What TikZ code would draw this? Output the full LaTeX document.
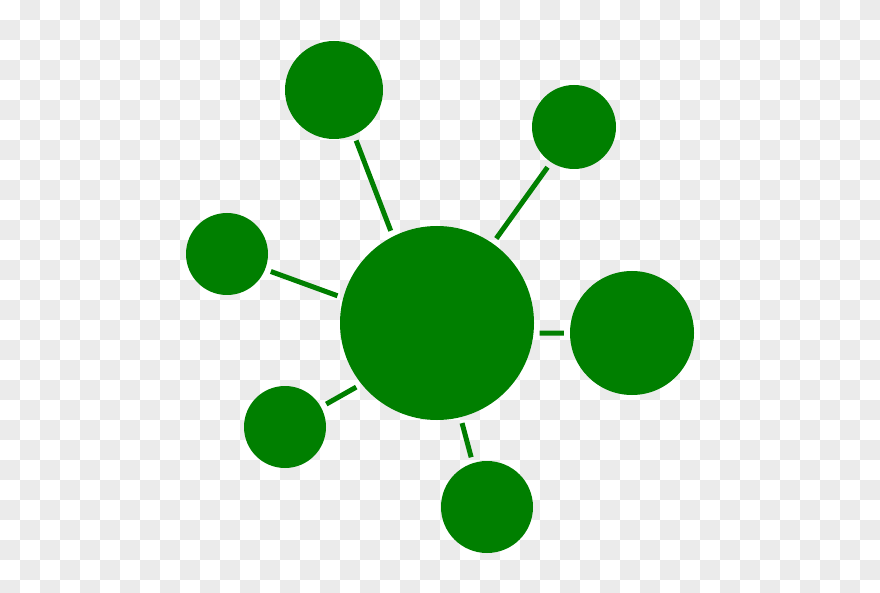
\documentclass[tikz,border=0pt]{standalone}
\definecolor{molgreen}{HTML}{007F00}
\definecolor{checkgray}{HTML}{EBEBEB}
\tikzset{
  ball/.style={circle, fill=molgreen, draw=none, inner sep=0pt, minimum size=#1},
  bond/.style={draw=molgreen, line width=5pt, shorten <=6pt, shorten >=6pt},
}
\begin{document}
\begin{tikzpicture}[x=1pt, y=-1pt]
  \begin{scope}
    \clip (0,0) rectangle (880,593);
    \fill[white] (0,0) rectangle (880,593);
    \foreach \i in {0,2,...,42} \foreach \j in {1,3,...,29}
      \fill[checkgray] (\i*20,\j*20) rectangle ++(20,20);
    \foreach \i in {1,3,...,43} \foreach \j in {0,2,...,28}
      \fill[checkgray] (\i*20,\j*20) rectangle ++(20,20);
  \end{scope}
  \useasboundingbox (0,0) rectangle (880,593);

  \node[ball=194pt] (c)  at (437,323) {};
  \node[ball=98pt]  (tl) at (334,90)  {};
  \node[ball=84pt]  (tr) at (574,127) {};
  \node[ball=82pt]  (l)  at (227,254) {};
  \node[ball=124pt] (r)  at (632,333) {};
  \node[ball=82pt]  (bl) at (285,427) {};
  \node[ball=92pt]  (b)  at (487,507) {};

  \draw[bond] (tl.-66) -- (c.117);
  \draw[bond] (tr.237) -- (c.55);
  \draw[bond] (l.-22) -- (c.165);
  \draw[bond] (r.180) -- (c.-6);
  \draw[bond] (bl.29) -- (c.219);
  \draw[bond] (b.108) -- (c.-76);
\end{tikzpicture}
\end{document}
